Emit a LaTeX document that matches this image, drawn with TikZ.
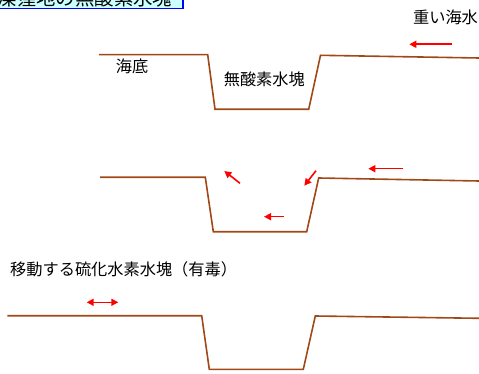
\documentclass[tikz,border=0pt]{standalone}
\usepackage{fontspec}
\setmainfont{Noto Sans CJK JP}
\usetikzlibrary{arrows.meta}
\definecolor{seabed}{RGB}{160,72,24}
\definecolor{titlefill}{RGB}{204,255,255}
\tikzset{
  profile/.style={draw=seabed, line width=1.6pt, line join=miter},
  flow/.style={draw=red, line width=1.6pt, -{Triangle[length=7pt,width=7pt]}},
  flowboth/.style={draw=red, line width=1.6pt, {Triangle[length=7pt,width=7pt]}-{Triangle[length=7pt,width=7pt]}},
  label/.style={inner sep=0pt, font=\fontsize{16.2}{18}\selectfont},
  titlebox/.style={fill=titlefill, draw=blue, line width=1.1pt},
}
\begin{document}
\begin{tikzpicture}[x=1pt,y=-1pt]
\useasboundingbox (0,0) rectangle (479,374);
\clip (0,0) rectangle (479,374);

% title banner, running off the top edge
\draw[titlebox] (-10,-30) rectangle (183,8.7);
\node[inner sep=0pt, anchor=base east, font=\fontsize{19.4}{22}\selectfont] (title) at (172.5,5.2) {浚渫窪地の無酸素水塊};

% first stage: pit holding anoxic water
\draw[profile] (99,54.7) -- (207.7,54.7) -- (215,109.3) -- (308.7,109.3) -- (320.5,55.3) -- (479,58);
\node[label] (heavy) at (445.5,17.5) {重い海水};
\node[label] (bottom) at (132,66) {海底};
\node[label] (anoxic) at (264.3,79) {無酸素水塊};
\draw[flow] (451.7,44.3) -- (409.3,44.3);

% second stage: heavy water pushes the pit water out
\draw[profile] (100,177.3) -- (205.3,177.3) -- (213.3,231.7) -- (306.7,231.7) -- (318.7,178) -- (479,181);
\draw[flow] (240,183.3) -- (224.3,171);
\draw[flow] (316,170.7) -- (304.3,185.7);
\draw[flow] (284,216.7) -- (264,216.7);
\draw[flow] (403.3,168.7) -- (368.3,168.7);

% third stage: displaced hydrogen sulfide water moves along the seabed
\node[label, anchor=west] (toxic) at (10,269) {移動する硫化水素水塊（有毒）};
\draw[profile] (7.3,315.7) -- (201.7,315.7) -- (209.3,369.3) -- (303.3,369.3) -- (315.3,316) -- (479,318.3);
\draw[flowboth] (86.7,302.3) -- (118.3,302.3);
\end{tikzpicture}
\end{document}
